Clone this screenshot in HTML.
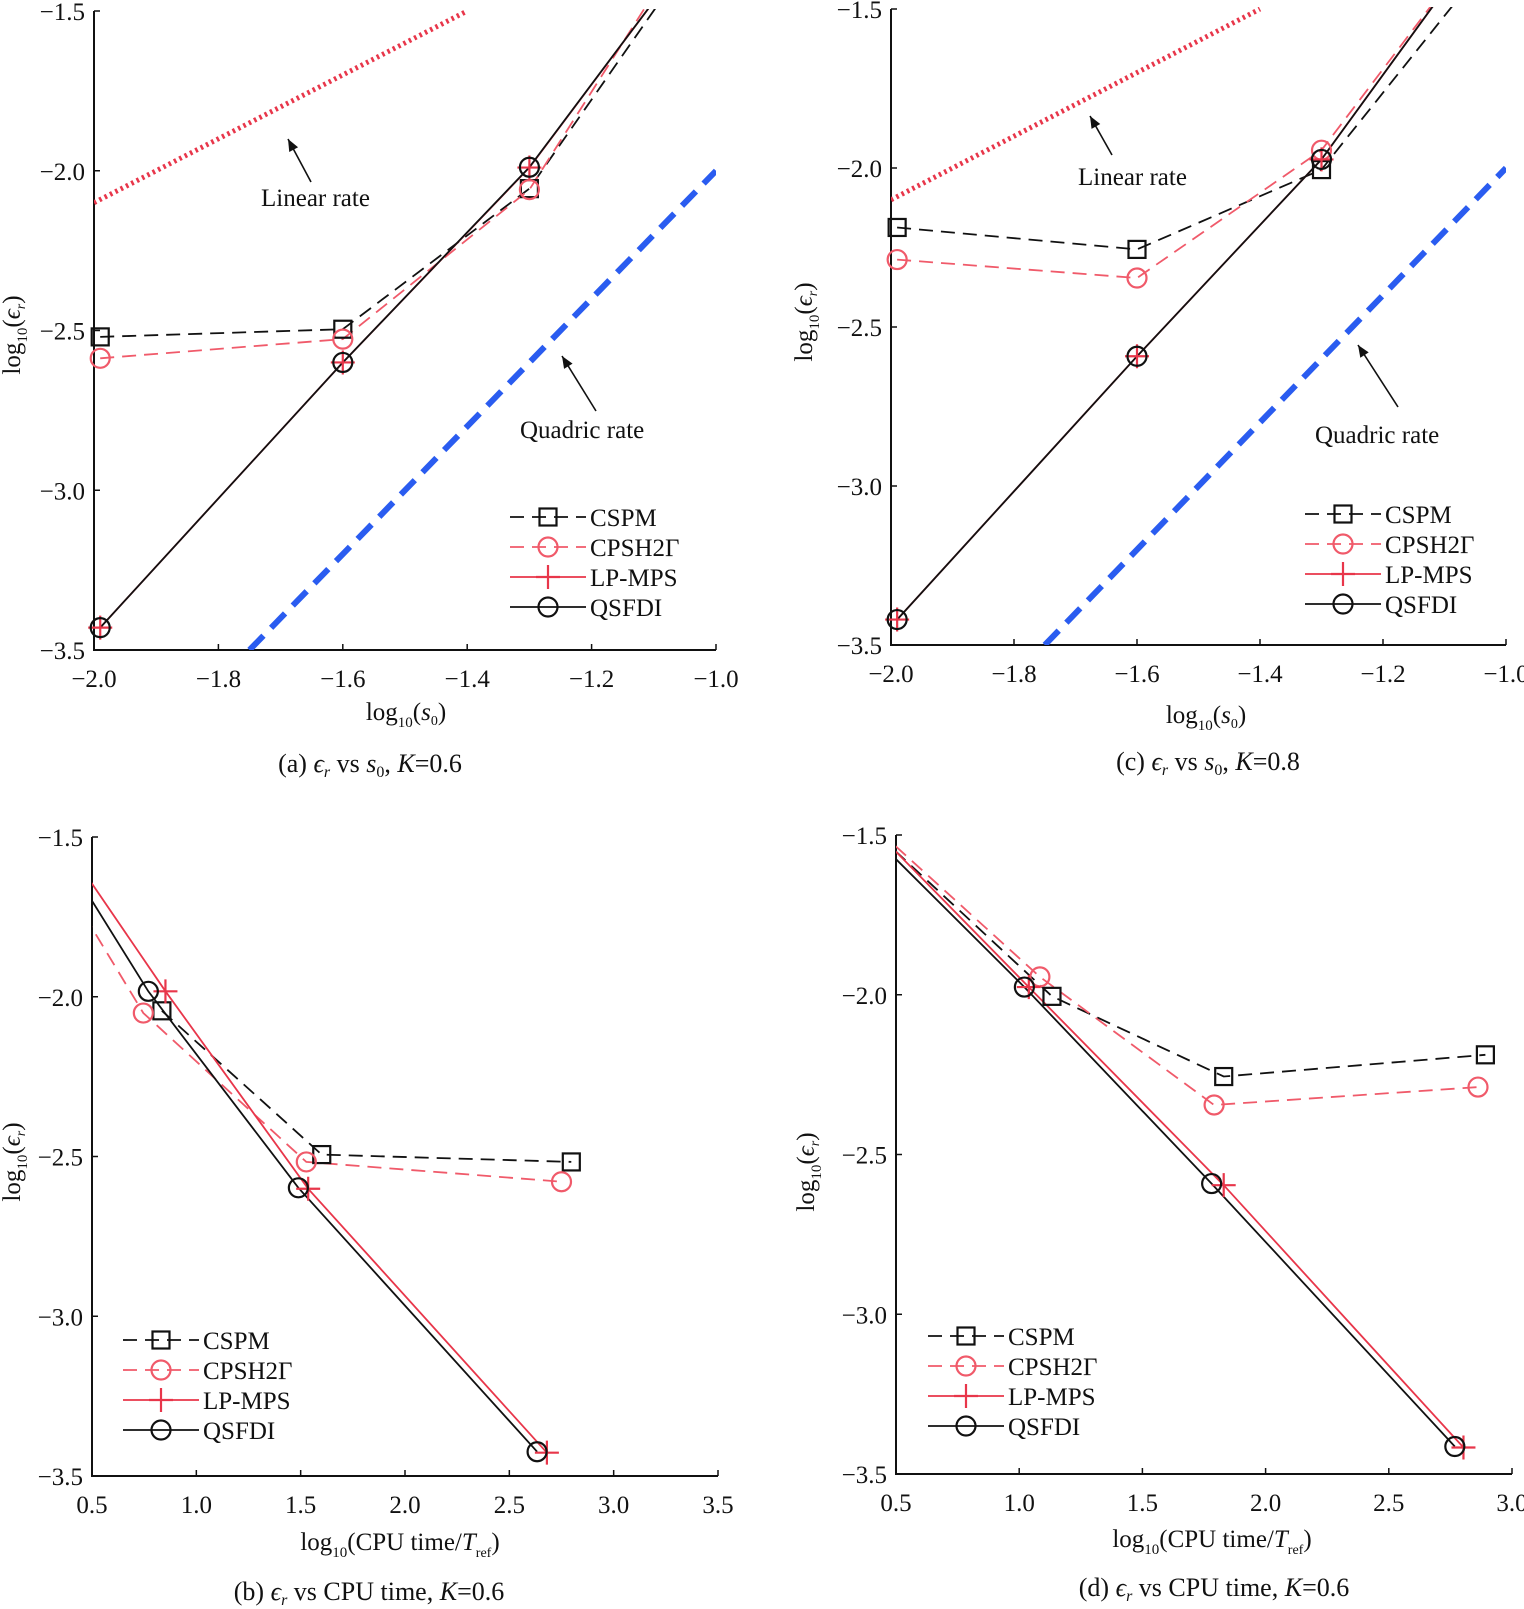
<!DOCTYPE html>
<html><head><meta charset="utf-8"><title>Convergence charts</title>
<style>
html,body{margin:0;padding:0;background:#fff;}
svg{display:block;font-family:"Liberation Serif","DejaVu Serif",serif;}
text{fill:#111;}
</style></head>
<body>
<svg id="fig" xmlns="http://www.w3.org/2000/svg" width="1524" height="1609" viewBox="0 0 1524 1609"></svg>
<script>
// ---------- data (panel a: eps_r vs s0, K=0.6) ----------
const aX = [-1.99, -1.6, -1.3, -1.0];
const aCSPM = [-2.52, -2.496, -2.056, -1.22];
const aCPSH = [-2.587, -2.527, -2.059, -1.14];
const aLPMPS = [-3.43, -2.60, -1.99, -1.21];
const aQSFDI = [-3.43, -2.60, -1.989, -1.21];
const aLinearX = [-2.0, -1.4];
const aLinearY = [-2.1, -1.5];
const aQuadX = [-1.75, -1.0];
const aQuadY = [-3.5, -2.0];
// ---------- data (panel c: eps_r vs s0, K=0.8) ----------
const cX = [-1.99, -1.6, -1.3, -1.0];
const cCSPM = [-2.187, -2.256, -2.005, -1.28];
const cCPSH = [-2.288, -2.346, -1.944, -1.18];
const cLPMPS = [-3.42, -2.592, -1.973, -1.175];
const cQSFDI = [-3.42, -2.592, -1.973, -1.175];
const cLinearX = [-2.0, -1.4];
const cLinearY = [-2.1, -1.5];
const cQuadX = [-1.75, -1.0];
const cQuadY = [-3.5, -2.0];
// ---------- data (panel b: eps_r vs CPU time, K=0.6) ----------
const bCSPMx = [0.835, 1.601, 2.797];
const bCSPMy = [-2.044, -2.494, -2.517];
const bCPSHx = [0.3, 0.746, 1.527, 2.75];
const bCPSHy = [-1.569, -2.051, -2.517, -2.579];
const bLPMPSx = [0.3, 0.852, 1.536, 2.68];
const bLPMPSy = [-1.455, -1.983, -2.601, -3.427];
const bQSFDIx = [0.3, 0.77, 1.489, 2.633];
const bQSFDIy = [-1.49, -1.983, -2.598, -3.424];
// ---------- data (panel d: eps_r vs CPU time, K=0.6) ----------
const dCSPMx = [0.3, 1.133, 1.83, 2.892];
const dCSPMy = [-1.409, -2.005, -2.256, -2.188];
const dCPSHx = [0.3, 1.084, 1.791, 2.862];
const dCPSHy = [-1.396, -1.944, -2.345, -2.289];
const dLPMPSx = [0.3, 1.039, 1.83, 2.803];
const dLPMPSy = [-1.395, -1.976, -2.596, -3.417];
const dQSFDIx = [0.3, 1.021, 1.781, 2.768];
const dQSFDIy = [-1.422, -1.976, -2.591, -3.414];
// ---------- tick labels ----------
const sTicks = [-2.0, -1.8, -1.6, -1.4, -1.2, -1.0];
const yTicks = [-1.5, -2.0, -2.5, -3.0, -3.5];
const bTicks = [0.5, 1.0, 1.5, 2.0, 2.5, 3.0, 3.5];
const dTicks = [0.5, 1.0, 1.5, 2.0, 2.5, 3.0];

const NS = "http://www.w3.org/2000/svg";
const svg = document.getElementById('fig');
function mk(tag, attrs, parent) {
  const e = document.createElementNS(NS, tag);
  for (const k in attrs) e.setAttribute(k, attrs[k]);
  (parent || svg).appendChild(e);
  return e;
}
function fmt(v) { return (v < 0 ? '\u2212' : '') + Math.abs(v).toFixed(1); }

const BLK = '#111', RED = '#e8364a', PINK = '#f05a6a', BLUE = '#2a5cf0';
const FS = 25;

function panel(id, box, xd, yd, xticks, caption, capLetter, capTail, capSym, xlabelKind) {
  const g = mk('g', {});
  
  
  const sx = v => box.x0 + (v - xd[0]) / (xd[1] - xd[0]) * (box.x1 - box.x0);
  const sy = v => box.y0 + (v - yd[0]) / (yd[1] - yd[0]) * (box.y1 - box.y0);
  const clip = mk('clipPath', { id: 'clip-' + id }, g);
  mk('rect', { x: box.x0, y: box.y0 - 2, width: box.x1 - box.x0, height: box.y1 - box.y0 + 2 }, clip);
  const ax = mk('path', { d: `M${box.x0},${box.y0} V${box.y1} H${box.x1}`, fill: 'none', stroke: BLK, 'stroke-width': 2 }, g);
  
  
  xticks.forEach(t => {
    const x = sx(t);
    const tk = mk('line', { x1: x, x2: x, y1: box.y1, y2: box.y1 - 6, stroke: BLK, 'stroke-width': 1.5 }, g);
    
    
    const tl = mk('text', { x: x, y: box.y1 + 37, 'text-anchor': 'middle', 'font-size': FS }, g);
    tl.textContent = fmt(t);
    
    
  });
  yTicks.forEach(t => {
    const y = sy(t);
    const tk = mk('line', { x1: box.x0, x2: box.x0 + 6, y1: y, y2: y, stroke: BLK, 'stroke-width': 1.5 }, g);
    
    
    const tl = mk('text', { x: box.x0 - 9, y: y + 9, 'text-anchor': 'end', 'font-size': FS }, g);
    tl.textContent = fmt(t);
    
    
  });
  const yl = mk('text', { transform: `translate(${box.ylx},${box.yly}) rotate(-90)`, 'text-anchor': 'middle', 'font-size': FS }, g);
  yl.innerHTML = 'log<tspan font-size="15" dy="7">10</tspan><tspan dy="-7">(</tspan><tspan font-style="italic">\u03f5</tspan><tspan font-size="14" font-style="italic" dy="5">r</tspan><tspan dy="-5">)</tspan>';
  
  
  const xl = mk('text', { x: box.xlx, y: box.xly, 'text-anchor': 'middle', 'font-size': FS }, g);
  if (xlabelKind === 's') xl.innerHTML = 'log<tspan font-size="15" dy="7">10</tspan><tspan dy="-7">(</tspan><tspan font-style="italic">s</tspan><tspan font-size="14" dy="5">0</tspan><tspan dy="-5">)</tspan>';
  else xl.innerHTML = 'log<tspan font-size="15" dy="7">10</tspan><tspan dy="-7">(CPU time/</tspan><tspan font-style="italic">T</tspan><tspan font-size="14" dy="7">ref</tspan><tspan dy="-7">)</tspan>';
  
  
  const cp = mk('text', { x: box.cx, y: box.cy, 'text-anchor': 'middle', 'font-size': 26 }, g);
  if (capSym === 's') cp.innerHTML = capLetter + ' <tspan font-style="italic">\u03f5</tspan><tspan font-size="16" font-style="italic" dy="5">r</tspan><tspan dy="-5"> vs  </tspan><tspan font-style="italic">s</tspan><tspan font-size="16" dy="5">0</tspan><tspan dy="-5">, </tspan><tspan font-style="italic">K</tspan>' + capTail;
  else cp.innerHTML = capLetter + ' <tspan font-style="italic">\u03f5</tspan><tspan font-size="16" font-style="italic" dy="5">r</tspan><tspan dy="-5"> vs CPU time, </tspan><tspan font-style="italic">K</tspan>' + capTail;
  
  
  const plot = mk('g', { 'clip-path': `url(#clip-${id})` }, g);
  return { g, plot, sx, sy };
}

function series(P, xs, ys, color, dash, width, marker, name) {
  const d = xs.map((x, i) => (i ? 'L' : 'M') + P.sx(x).toFixed(1) + ',' + P.sy(ys[i]).toFixed(1)).join(' ');
  const attrs = { d: d, fill: 'none', stroke: color, 'stroke-width': width };
  if (dash) attrs['stroke-dasharray'] = dash;
  const p = mk('path', attrs, P.plot);
  
  
  if (!marker) return;
  xs.forEach((x, i) => {
    const cx = P.sx(x), cy = P.sy(ys[i]);
    if (cx < P.sx(P.xmin) - 1 || cx > P.sx(P.xmax) + 1) return;
    const m = drawMarker(P.g, marker, cx, cy, color);
    
    
  });
}
function drawMarker(parent, type, cx, cy, color) {
  if (type === 'square') return mk('rect', { x: cx - 8.5, y: cy - 8.5, width: 17, height: 17, fill: 'none', stroke: color, 'stroke-width': 2.2 }, parent);
  if (type === 'circle') return mk('circle', { cx: cx, cy: cy, r: 9.5, fill: 'none', stroke: color, 'stroke-width': 2.2 }, parent);
  return mk('path', { d: `M${cx - 12},${cy} H${cx + 12} M${cx},${cy - 12} V${cy + 12}`, stroke: color, 'stroke-width': 2.2, fill: 'none' }, parent);
}

function legend(P, lx, ty, gap) {
  const items = [['CSPM', BLK, '14,8', 'square'], ['CPSH2\u0393', PINK, '14,8', 'circle'], ['LP-MPS', RED, null, 'plus'], ['QSFDI', BLK, null, 'circle']];
  const lg = mk('g', {}, P.g);
  
  
  items.forEach((it, i) => {
    const y = ty + i * gap;
    const e = mk('g', {}, lg);
    
    
    const la = { x1: lx, x2: lx + 76, y1: y, y2: y, stroke: it[1], 'stroke-width': 1.8 };
    if (it[2]) la['stroke-dasharray'] = it[2];
    mk('line', la, e);
    drawMarker(e, it[3], lx + 38, y, it[1]);
    const t = mk('text', { x: lx + 80, y: y + 9, 'font-size': FS }, e);
    t.textContent = it[0];
  });
}

function arrow(P, x1, y1, x2, y2, name) {
  const a = Math.atan2(y2 - y1, x2 - x1), L = 12, w = 5;
  const g = mk('g', {}, P.g);
  
  
  mk('line', { x1: x1, y1: y1, x2: x2, y2: y2, stroke: BLK, 'stroke-width': 1.6 }, g);
  const bx = x2 - L * Math.cos(a), by = y2 - L * Math.sin(a);
  mk('path', { d: `M${x2},${y2} L${bx - w * Math.sin(a)},${by + w * Math.cos(a)} L${bx + w * Math.sin(a)},${by - w * Math.cos(a)} Z`, fill: BLK }, g);
}
function label(P, x, y, txt, name) {
  const t = mk('text', { x: x, y: y, 'font-size': FS }, P.g);
  t.textContent = txt;
  
  
}

// ---------- panel a ----------
const PA = panel('a', { x0: 94, x1: 716, y0: 11, y1: 650, ylx: 20, yly: 335, xlx: 406, xly: 720, cx: 370, cy: 772 },
  [-2.0, -1.0], [-1.5, -3.5], sTicks, '', '(a)', '=0.6', 's', 's');
PA.xmin = -2.0; PA.xmax = -1.0;
series(PA, aLinearX, aLinearY, RED, '2.5,3.5', 5, null, 'linear-rate');
series(PA, aQuadX, aQuadY, BLUE, '20,11', 6, null, 'quadric-rate');
series(PA, aX, aCSPM, BLK, '14,8', 1.8, 'square', 'cspm');
series(PA, aX, aCPSH, PINK, '14,8', 1.8, 'circle', 'cpsh2g');
series(PA, aX, aLPMPS, RED, null, 1.8, 'plus', 'lp-mps');
series(PA, aX, aQSFDI, BLK, null, 1.8, 'circle', 'qsfdi');
arrow(PA, 311, 182, 288, 139, 'linear-rate-arrow');
label(PA, 261, 206, 'Linear rate', 'linear-rate-label');
arrow(PA, 596, 411, 562, 356, 'quadric-rate-arrow');
label(PA, 520, 438, 'Quadric rate', 'quadric-rate-label');
legend(PA, 510, 517, 30);

// ---------- panel c ----------
const PC = panel('c', { x0: 891, x1: 1506, y0: 9, y1: 645, ylx: 812, yly: 322, xlx: 1206, xly: 723, cx: 1208, cy: 770 },
  [-2.0, -1.0], [-1.5, -3.5], sTicks, '', '(c)', '=0.8', 's', 's');
PC.xmin = -2.0; PC.xmax = -1.0;
series(PC, cLinearX, cLinearY, RED, '2.5,3.5', 5, null, 'linear-rate');
series(PC, cQuadX, cQuadY, BLUE, '20,11', 6, null, 'quadric-rate');
series(PC, cX, cCSPM, BLK, '14,8', 1.8, 'square', 'cspm');
series(PC, cX, cCPSH, PINK, '14,8', 1.8, 'circle', 'cpsh2g');
series(PC, cX, cLPMPS, RED, null, 1.8, 'plus', 'lp-mps');
series(PC, cX, cQSFDI, BLK, null, 1.8, 'circle', 'qsfdi');
arrow(PC, 1112, 155, 1090, 116, 'linear-rate-arrow');
label(PC, 1078, 185, 'Linear rate', 'linear-rate-label');
arrow(PC, 1398, 407, 1358, 345, 'quadric-rate-arrow');
label(PC, 1315, 443, 'Quadric rate', 'quadric-rate-label');
legend(PC, 1305, 514, 30);

// ---------- panel b ----------
const PB = panel('b', { x0: 92, x1: 718, y0: 837, y1: 1476, ylx: 20, yly: 1162, xlx: 400, xly: 1550, cx: 369, cy: 1600 },
  [0.5, 3.5], [-1.5, -3.5], bTicks, '', '(b)', '=0.6', 't', 't');
PB.xmin = 0.5; PB.xmax = 3.5;
series(PB, bCSPMx, bCSPMy, BLK, '14,8', 1.8, 'square', 'cspm');
series(PB, bCPSHx, bCPSHy, PINK, '14,8', 1.8, 'circle', 'cpsh2g');
series(PB, bLPMPSx, bLPMPSy, RED, null, 1.8, 'plus', 'lp-mps');
series(PB, bQSFDIx, bQSFDIy, BLK, null, 1.8, 'circle', 'qsfdi');
legend(PB, 123, 1340, 30);

// ---------- panel d ----------
const PD = panel('d', { x0: 896, x1: 1512, y0: 835, y1: 1474, ylx: 814, yly: 1172, xlx: 1212, xly: 1547, cx: 1214, cy: 1596 },
  [0.5, 3.0], [-1.5, -3.5], dTicks, '', '(d)', '=0.6', 't', 't');
PD.xmin = 0.5; PD.xmax = 3.0;
series(PD, dCSPMx, dCSPMy, BLK, '14,8', 1.8, 'square', 'cspm');
series(PD, dCPSHx, dCPSHy, PINK, '14,8', 1.8, 'circle', 'cpsh2g');
series(PD, dLPMPSx, dLPMPSy, RED, null, 1.8, 'plus', 'lp-mps');
series(PD, dQSFDIx, dQSFDIy, BLK, null, 1.8, 'circle', 'qsfdi');
legend(PD, 928, 1336, 30);
</script>
</body></html>
